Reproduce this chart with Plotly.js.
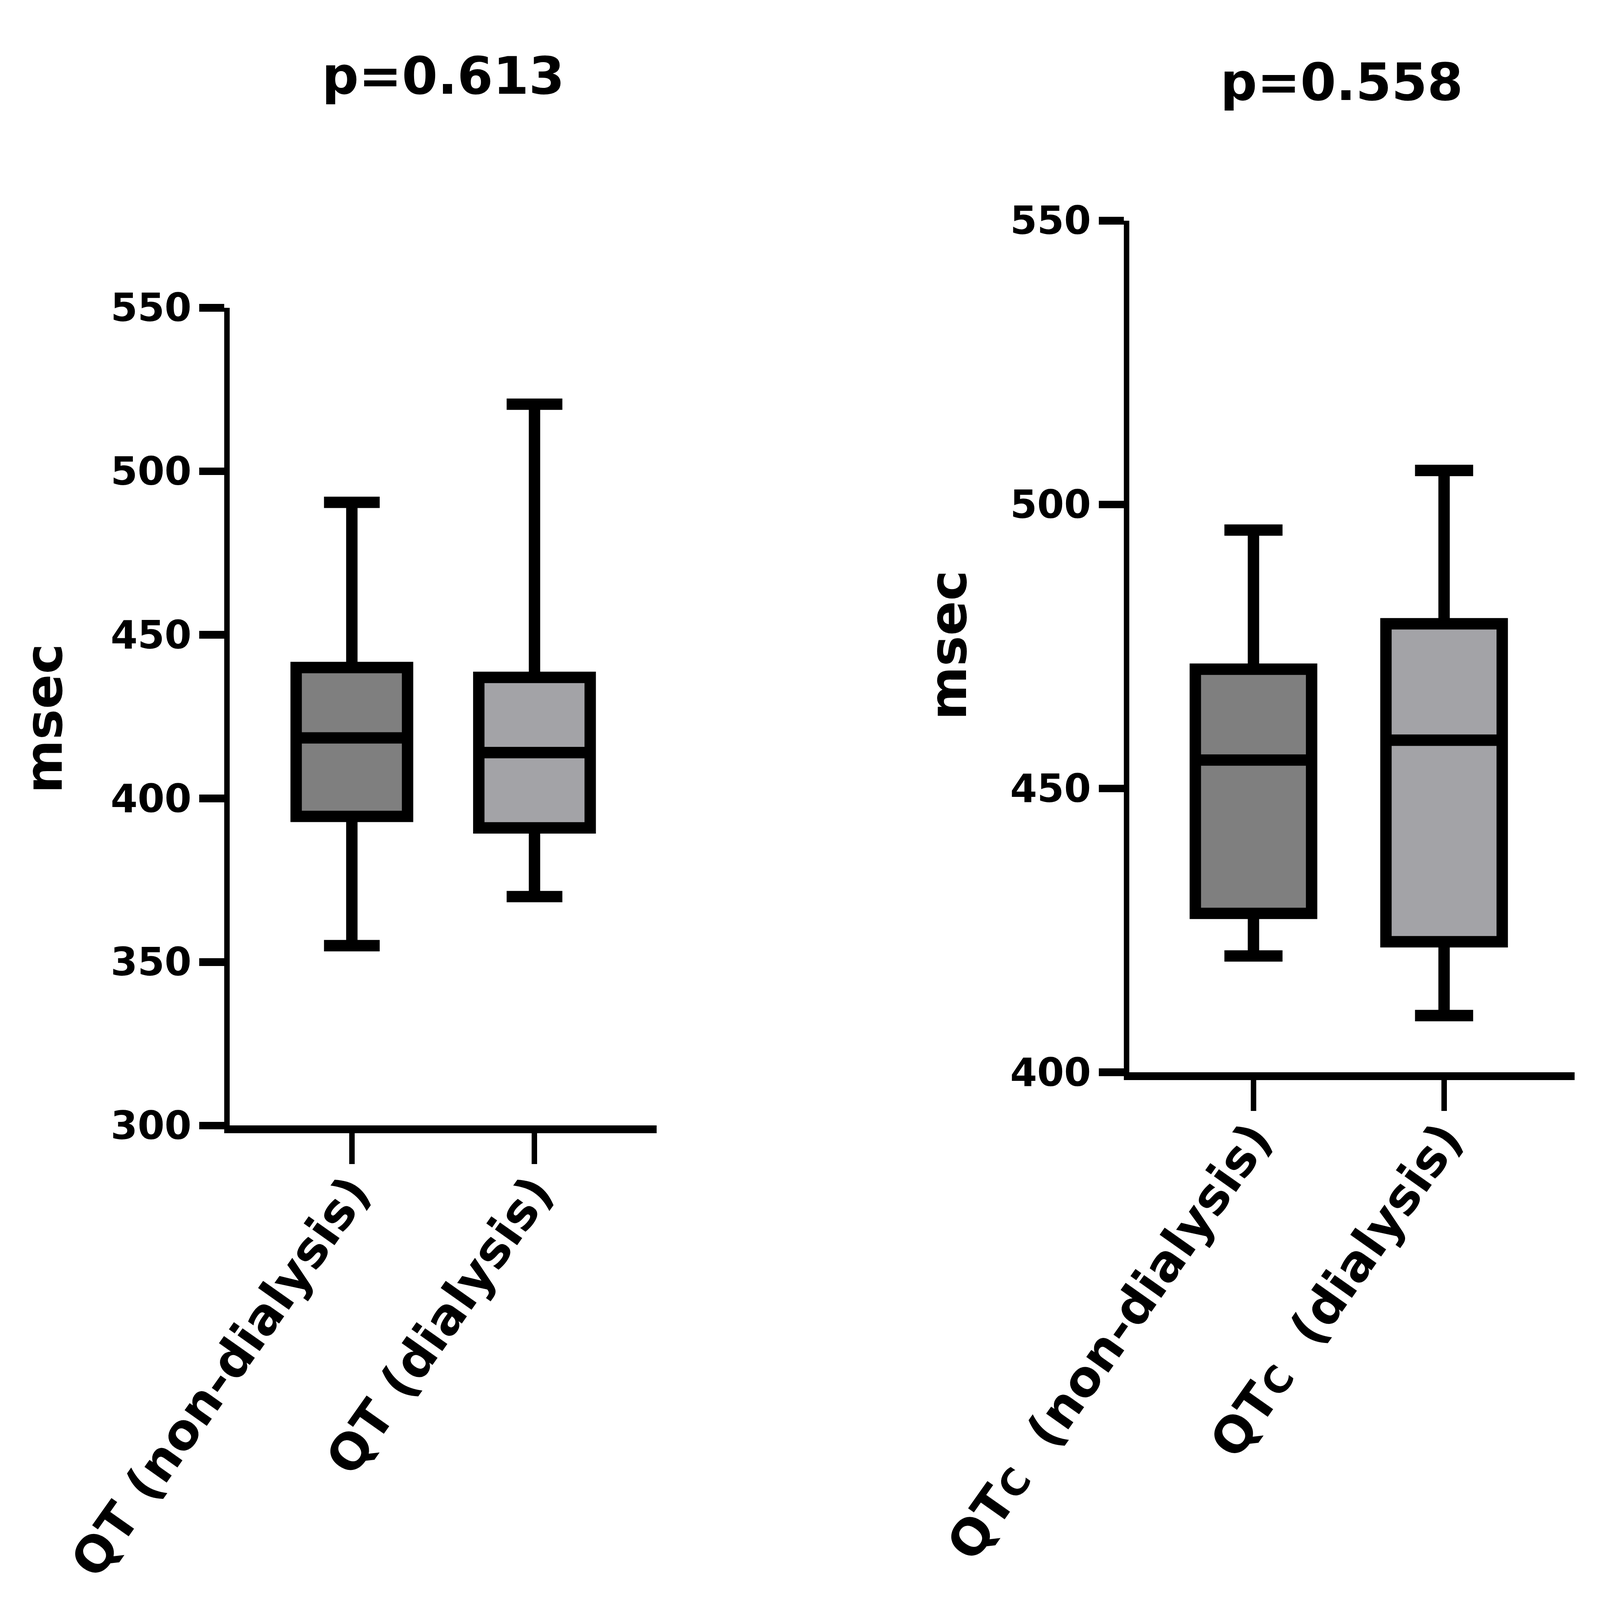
<!DOCTYPE html>
<html>
<head>
<meta charset="utf-8">
<script src="https://cdn.plot.ly/plotly-3.0.1.min.js"></script>
<style>
  html, body { margin: 0; padding: 0; background: #fff; overflow: hidden; }
  #chart { position: absolute; left: 0; top: 0; }
</style>
</head>
<body>
<div id="chart"></div>
<script>
// QT panel
const qtCats = ['QT (non-dialysis)', 'QT (dialysis)'];
const qtLower = [355, 370];
const qtQ1 = [394.5, 391];
const qtMedian = [418.5, 414];
const qtQ3 = [440, 437];
const qtUpper = [490.5, 520.5];
const qtPValue = 'p=0.613';

// QTc panel
const qtcCats = ['QTc (non-dialysis)', 'QTc (dialysis)'];
const qtcSuffix = ['(non-dialysis)', '(dialysis)'];
const qtcLower = [420.5, 410];
const qtcQ1 = [428, 423];
const qtcMedian = [455, 458.5];
const qtcQ3 = [471, 479];
const qtcUpper = [495.5, 506];
const qtcPValue = 'p=0.558';

const fills = ['#7f7f7f', '#a3a3a7'];
const chartDiv = document.getElementById('chart');
const FONT = 'DejaVu Sans';

// reference is 7017 x 4961 px; fill whatever window we get, x and y separately
const W = window.innerWidth || 7017;
const H = window.innerHeight || 4961;
const sx = W / 7017;
const sy = H / 4961;
const sm = Math.min(sx, sy);
const sg = Math.sqrt(sx * sy);
const sd = Math.sqrt((sx * sx + sy * sy) / 2);   // along a 45deg diagonal
const labelAngle = -Math.atan2(sy, sx) * 180 / Math.PI;

chartDiv.style.width = W + 'px';
chartDiv.style.height = H + 'px';

const qtcLabels = qtcSuffix.map(t =>
  `QT<span style="font-size:${(132 * sd).toFixed(1)}px">C</span>\u00a0 ${t}`);

function boxTraces(cats, lo, q1, med, q3, hi, xa, ya) {
  return cats.map((c, i) => ({
    type: 'box',
    x: [c],
    lowerfence: [lo[i]],
    q1: [q1[i]],
    median: [med[i]],
    q3: [q3[i]],
    upperfence: [hi[i]],
    xaxis: xa, yaxis: ya,
    width: 0.61,
    whiskerwidth: 0.5,
    boxpoints: false,
    fillcolor: fills[i],
    line: { color: '#000', width: 42 * sg },
    hoverinfo: 'skip',
    showlegend: false,
  }));
}

const traces = [
  ...boxTraces(qtCats, qtLower, qtQ1, qtMedian, qtQ3, qtUpper, 'x', 'y'),
  ...boxTraces(qtcCats, qtcLower, qtcQ1, qtcMedian, qtcQ3, qtcUpper, 'x2', 'y2'),
];

const bold = size => ({ family: FONT, size: size, color: '#000', weight: 700 });

const xCommon = {
  type: 'category',
  showline: true, linecolor: '#000', linewidth: 24 * sy,
  ticks: 'outside', ticklen: 95 * sy, tickwidth: 24 * sx, tickcolor: '#000',
  tickangle: labelAngle,
  showgrid: false, zeroline: false,
  tickfont: bold(178 * sd),
  ticklabelstandoff: Math.round(-65 * sy),
};
const yCommon = {
  showline: true, linecolor: '#000', linewidth: 24 * sx,
  ticks: 'outside', ticklen: 110 * sx, tickwidth: 24 * sy, tickcolor: '#000',
  dtick: 50,
  showgrid: false, zeroline: false,
  tickfont: bold(165 * sm * 1.03),
  ticklabelstandoff: 0,
};

// domains are fractions of the 7017 x 4961 reference
const fx = v => v / 7017;
const fy = v => 1 - v / 4961;

Plotly.newPlot(chartDiv, traces, {
  width: W,
  height: H,
  paper_bgcolor: '#fff',
  plot_bgcolor: '#fff',
  margin: { t: 0, r: 0, b: 0, l: 0 },
  showlegend: false,
  boxmode: 'overlay',
  xaxis: { ...xCommon, domain: [fx(1008), fx(2880)], range: [-0.668, 1.669], anchor: 'y' },
  yaxis: { ...yCommon, domain: [fy(3490), fy(954)], range: [300, 550], anchor: 'x' },
  xaxis2: {
    ...xCommon, domain: [fx(4953), fx(6905)], range: [-0.651, 1.684], anchor: 'y2',
    tickvals: qtcCats, ticktext: qtcLabels,
  },
  yaxis2: { ...yCommon, domain: [fy(3325), fy(684)], range: [400, 550], anchor: 'x2' },
  annotations: [
    { text: qtPValue, xref: 'paper', yref: 'paper', x: fx(1944), y: fy(235), showarrow: false,
      xanchor: 'center', yanchor: 'middle', font: bold(215 * sm * 1.05) },
    { text: qtcPValue, xref: 'paper', yref: 'paper', x: fx(5885), y: fy(255), showarrow: false,
      xanchor: 'center', yanchor: 'middle', font: bold(215 * sm * 1.05) },
    { text: 'msec', xref: 'paper', yref: 'paper', x: fx(193), y: fy(2228), showarrow: false, textangle: -90,
      xanchor: 'center', yanchor: 'middle', font: bold(190 * Math.min(sg, sy)) },
    { text: 'msec', xref: 'paper', yref: 'paper', x: fx(4158), y: fy(2000), showarrow: false, textangle: -90,
      xanchor: 'center', yanchor: 'middle', font: bold(190 * Math.min(sg, sy)) },
  ],
}, { displayModeBar: false, staticPlot: true });
</script>
</body>
</html>
